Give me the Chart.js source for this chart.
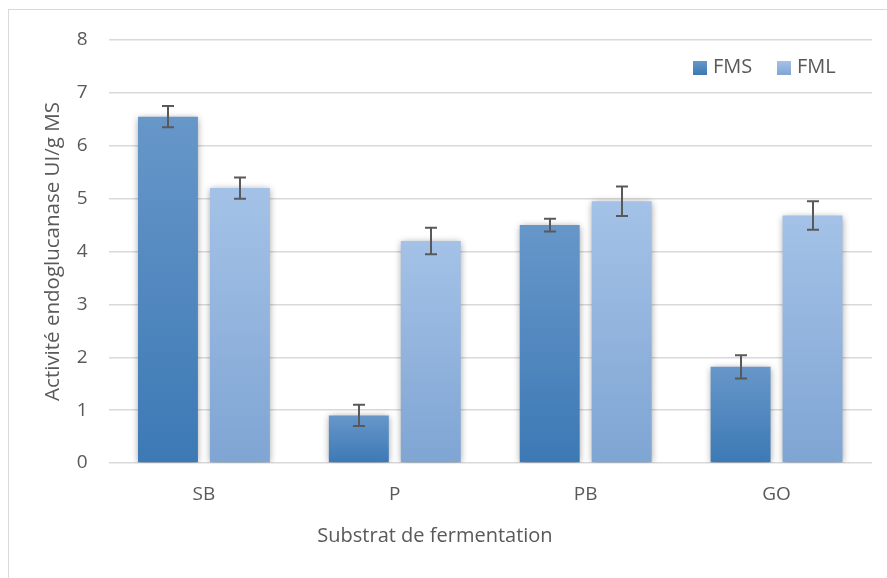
<!DOCTYPE html>
<html>
<head>
<meta charset="utf-8">
<script src="https://cdn.jsdelivr.net/npm/chart.js@4.4.0/dist/chart.umd.min.js"></script>
<style>
html,body{margin:0;padding:0;background:#fff;}
#wrap{width:887px;height:578px;position:relative;}
</style>
</head>
<body>
<div id="wrap"><canvas id="c" width="887" height="578"></canvas></div>
<script>
const categories = ['SB', 'P', 'PB', 'GO'];
const seriesNames = ['FMS', 'FML'];
const fmsValues = [6.55, 0.9, 4.5, 1.82];
const fmlValues = [5.2, 4.2, 4.95, 4.68];
const fmsErrors = [0.2, 0.2, 0.12, 0.22];
const fmlErrors = [0.2, 0.25, 0.28, 0.27];
const yTicks = [0, 1, 2, 3, 4, 5, 6, 7, 8];
const yTitle = 'Activité endoglucanase UI/g MS';
const xTitle = 'Substrat de fermentation';

const FONT = "'Open Sans', 'Liberation Sans', sans-serif";
const TXT = '#595959';
const palettes = [
  {top: '#6797c9', bottom: '#3c79b5'},
  {top: '#a4c2e7', bottom: '#7fa5d3'}
];

function gradFor(idx) {
  return function(ctx) {
    const chart = ctx.chart;
    const y = chart.scales.y;
    if (!y || ctx.raw === undefined) return palettes[idx].bottom;
    const top = y.getPixelForValue(ctx.raw);
    const bot = y.getPixelForValue(0);
    if (!isFinite(top) || !isFinite(bot) || top === bot) return palettes[idx].bottom;
    const g = chart.ctx.createLinearGradient(0, top, 0, bot);
    g.addColorStop(0, palettes[idx].top);
    g.addColorStop(1, palettes[idx].bottom);
    return g;
  };
}

const errorsBySeries = [fmsErrors, fmlErrors];
const valuesBySeries = [fmsValues, fmlValues];

const framePlugin = {
  id: 'frame',
  beforeDraw(chart) {
    const c = chart.ctx;
    c.save();
    c.fillStyle = '#fff';
    c.fillRect(0, 0, chart.width, chart.height);
    c.strokeStyle = '#d9d9d9';
    c.lineWidth = 1;
    c.strokeRect(8.5, 9.5, 900, 620);
    c.restore();
  },
  afterDraw(chart) {
    const c = chart.ctx;
    c.save();
    c.font = '20px ' + FONT;
    c.fillStyle = TXT;
    c.textAlign = 'center';
    c.textBaseline = 'middle';
    c.fillText(xTitle, 435, 536);
    c.restore();
  }
};

const shadowPlugin = {
  id: 'barShadow',
  beforeDatasetsDraw(chart) {
    const c = chart.ctx;
    c.save();
    c.shadowColor = 'rgba(0,0,0,0.4)';
    c.shadowBlur = 7;
    c.shadowOffsetX = 0;
    c.shadowOffsetY = 1;
  },
  afterDatasetsDraw(chart) {
    chart.ctx.restore();
  }
};

const errorPlugin = {
  id: 'errorBars',
  afterDatasetsDraw(chart) {
    const c = chart.ctx;
    const y = chart.scales.y;
    c.save();
    c.strokeStyle = '#595959';
    c.lineWidth = 2;
    chart.data.datasets.forEach((ds, i) => {
      const meta = chart.getDatasetMeta(i);
      meta.data.forEach((bar, j) => {
        const v = valuesBySeries[i][j];
        const e = errorsBySeries[i][j];
        const yt = y.getPixelForValue(v + e);
        const yb = y.getPixelForValue(v - e);
        const x = Math.round(bar.x);
        c.beginPath();
        c.moveTo(x, yt); c.lineTo(x, yb);
        c.moveTo(x - 6, yt); c.lineTo(x + 6, yt);
        c.moveTo(x - 6, yb); c.lineTo(x + 6, yb);
        c.stroke();
      });
    });
    c.restore();
  }
};

const legendPlugin = {
  id: 'customLegend',
  afterDraw(chart) {
    const c = chart.ctx;
    c.save();
    c.font = '20px ' + FONT;
    c.textBaseline = 'middle';
    c.textAlign = 'left';
    const items = [{x: 693, name: seriesNames[0], p: palettes[0]}, {x: 777, name: seriesNames[1], p: palettes[1]}];
    items.forEach(it => {
      const g = c.createLinearGradient(0, 61, 0, 75);
      g.addColorStop(0, it.p.top);
      g.addColorStop(1, it.p.bottom);
      c.fillStyle = g;
      c.fillRect(it.x, 61, 14, 14);
      c.fillStyle = TXT;
      c.fillText(it.name, it.x + 20, 67);
    });
    c.restore();
  }
};

new Chart(document.getElementById('c'), {
  type: 'bar',
  data: {
    labels: categories,
    datasets: [
      {label: seriesNames[0], data: fmsValues, backgroundColor: gradFor(0), borderWidth: 0},
      {label: seriesNames[1], data: fmlValues, backgroundColor: gradFor(1), borderWidth: 0}
    ]
  },
  options: {
    responsive: false,
    animation: false,
    devicePixelRatio: 1,
    categoryPercentage: 0.754,
    barPercentage: 0.833,
    layout: {padding: {left: 8, right: 15, top: 40, bottom: 0}},
    plugins: {legend: {display: false}, tooltip: {enabled: false}},
    scales: {
      x: {
        grid: {display: false, drawTicks: false},
        border: {display: false},
        ticks: {color: TXT, font: {family: FONT, size: 19}, padding: 20},
        title: {display: false},
        afterFit(s) { s.height = 115; }
      },
      y: {
        min: 0, max: 8,
        afterBuildTicks(s) { s.ticks = yTicks.map(v => ({value: v})); },
        grid: {color: '#d9d9d9', lineWidth: 1.5, drawTicks: false},
        border: {display: false},
        ticks: {color: TXT, font: {family: FONT, size: 19}, padding: 21},
        title: {display: true, text: yTitle, color: TXT, font: {family: FONT, size: 20.5}, padding: {top: 33, bottom: 33}},
        afterFit(s) { s.width = 100.5; }
      }
    }
  },
  plugins: [framePlugin, shadowPlugin, errorPlugin, legendPlugin]
});
</script>
</body>
</html>
